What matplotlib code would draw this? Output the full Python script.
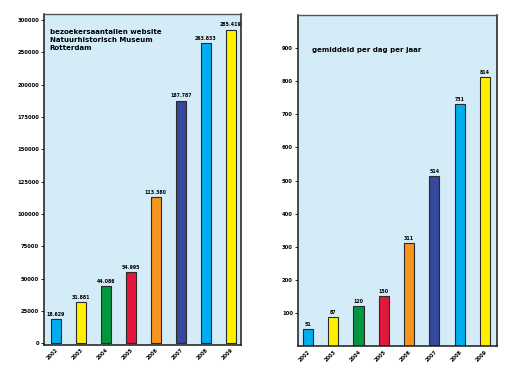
import matplotlib
matplotlib.use('Agg')
import matplotlib.pyplot as plt
import numpy as np

years = ['2002', '2003', '2004', '2005', '2006', '2007', '2008', '2009']
visitors = [18629, 31881, 44086, 54995, 113380, 187787, 263833, 285419]
visitor_labels = ['18.629', '31.881', '44.086', '54.995', '113.380', '187.787', '263.833', '285.419']
per_day = [51, 87, 120, 150, 311, 514, 731, 814]

visitor_ticks = [0, 25000, 50000, 75000, 100000, 125000, 150000, 175000, 200000, 250000, 300000]
per_day_ticks = [100, 200, 300, 400, 500, 600, 700, 800, 900]

bar_colors = ['#00aeef', '#fff000', '#00963f', '#e2173e', '#f7941d', '#36489b', '#00aeef', '#fff000']
bg_color = '#d3ecf8'


# the left axis is compressed above 200000 (ticks go 200000 -> 250000 -> 300000)
def fwd(v):
    v = np.asarray(v, dtype=float)
    return np.where(v <= 200000, v / 25000, 8 + (v - 200000) / 50000)


def inv(t):
    t = np.asarray(t, dtype=float)
    return np.where(t <= 8, t * 25000, 200000 + (t - 8) * 50000)


def style_axes(ax):
    ax.set_facecolor(bg_color)
    for side in ['left', 'bottom', 'right']:
        ax.spines[side].set_color('#1a1a1a')
        ax.spines[side].set_linewidth(1.1)
    ax.spines['top'].set_color('#555555')
    ax.spines['top'].set_linewidth(1.0)
    ax.tick_params(axis='y', length=2, width=0.6, pad=1.5, labelsize=3.8)
    ax.tick_params(axis='x', length=0, pad=2, labelsize=3.6)
    for lbl in ax.get_yticklabels():
        lbl.set_fontweight('bold')


def draw_bars(ax, values, labels, offset):
    x = np.arange(len(years))
    ax.bar(x, values, width=0.4, color=bar_colors, edgecolor='#2a2a2a', linewidth=0.8, zorder=2)
    for xi, v, lab in zip(x, values, labels):
        ax.annotate(lab, (xi, v), xytext=(0, offset), textcoords='offset points',
                    ha='center', va='bottom', fontsize=3.4, fontweight='bold')
    ax.set_xticks(x)
    ax.set_xticklabels(years, rotation=45, ha='right', rotation_mode='anchor',
                       fontweight='bold')


fig = plt.figure(figsize=(5.17, 3.77), dpi=100)

ax1 = fig.add_axes([0.085, 0.085, 0.381, 0.878])
ax1.set_yscale('function', functions=(fwd, inv))
draw_bars(ax1, visitors, visitor_labels, 1.5)
ax1.set_xlim(-0.48, 7.4)
ax1.set_ylim(-1200, 309500)
ax1.set_yticks(visitor_ticks)
ax1.set_yticklabels([str(t) for t in visitor_ticks])
ax1.yaxis.set_minor_locator(matplotlib.ticker.NullLocator())
style_axes(ax1)
ax1.text(0.03, 0.955, 'bezoekersaantallen website\nNatuurhistorisch Museum\nRotterdam',
         transform=ax1.transAxes, ha='left', va='top', fontsize=5, fontweight='bold',
         linespacing=1.45)

ax2 = fig.add_axes([0.576, 0.082, 0.385, 0.878])
draw_bars(ax2, per_day, [str(v) for v in per_day], 1.5)
ax2.set_xlim(-0.4, 7.47)
ax2.set_ylim(0, 1000)
ax2.set_yticks(per_day_ticks)
ax2.set_yticklabels([str(t) for t in per_day_ticks])
style_axes(ax2)
ax2.text(0.07, 0.895, 'gemiddeld per dag per jaar', transform=ax2.transAxes,
         ha='left', va='center', fontsize=5, fontweight='bold')

fig.savefig('out.png', dpi=100)
